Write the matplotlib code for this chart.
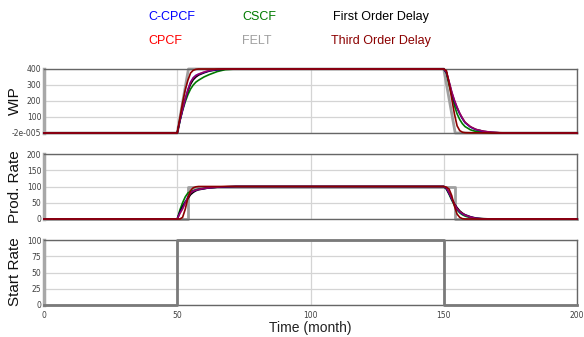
import matplotlib
matplotlib.use("Agg")
import matplotlib.pyplot as plt

# ---------------- data ----------------
time = [0, 50, 51, 52, 53, 54, 55, 56, 57, 58, 60, 62, 65, 68, 72, 80,
        150, 151, 152, 153, 154, 155, 156, 157, 158, 160, 162, 165, 168, 172, 180, 200]

# WIP
wip_c_cpcf = [0, 0, 78, 146, 210, 272, 318, 345, 360, 368, 380, 390, 397, 400, 400, 400,
              400, 380, 320, 255, 203, 160, 122, 92, 65, 38, 22, 10, 4, 0, 0, 0]
wip_cpcf = [0, 0, 80, 148, 212, 270, 316, 344, 359, 368, 381, 391, 398, 400, 400, 400,
            400, 382, 322, 258, 206, 162, 124, 94, 67, 40, 23, 11, 5, 1, 0, 0]
wip_cscf = [0, 0, 75, 140, 195, 240, 275, 300, 318, 330, 350, 365, 384, 396, 400, 400,
            400, 375, 300, 235, 172, 120, 84, 58, 40, 20, 10, 3, 0, 0, 0, 0]
wip_first = [0, 0, 80, 150, 210, 262, 305, 333, 350, 362, 376, 387, 395, 399, 400, 400,
             400, 378, 315, 250, 198, 156, 120, 90, 66, 38, 22, 10, 4, 0, 0, 0]
wip_third = [0, 0, 95, 190, 270, 330, 375, 392, 398, 400, 400, 400, 400, 400, 400, 400,
             400, 390, 310, 215, 120, 45, 15, 5, 2, 1, 1, 1, 0, 0, 0, 0]
felt_wip_time = [0, 50, 54.2, 150, 154.3, 200]
felt_wip = [0, 0, 400, 400, 0, 0]

# Production rate
prod_c_cpcf = [0, 0, 18, 32, 50, 68, 81, 86, 89, 91, 94, 96, 98, 99, 100, 100,
               100, 95, 80, 62, 45, 31, 22, 16, 12, 6, 2, 0, 0, 0, 0, 0]
prod_cpcf = [0, 0, 17, 31, 49, 67, 80, 86, 89, 91, 94, 96, 98, 100, 100, 100,
             100, 96, 81, 63, 46, 32, 23, 17, 12, 6, 2, 0, 0, 0, 0, 0]
prod_cscf = [0, 0, 28, 50, 68, 80, 85, 88, 90, 92, 94, 96, 98, 99, 100, 100,
             100, 92, 76, 58, 42, 28, 19, 13, 9, 4, 1, 0, 0, 0, 0, 0]
prod_first = [0, 0, 22, 39, 53, 63, 75, 82, 87, 90, 93, 96, 98, 99, 100, 100,
              100, 93, 79, 62, 47, 35, 25, 18, 13, 7, 3, 1, 0, 0, 0, 0]
prod_third = [0, 0, 0, 5, 30, 65, 88, 96, 99, 100, 100, 100, 100, 100, 100, 100,
              100, 98, 92, 72, 40, 15, 5, 1, 0, 0, 0, 0, 0, 0, 0, 0]
felt_prod_time = [0, 54.2, 54.2, 154.3, 154.3, 200]
felt_prod = [0, 0, 100, 100, 0, 0]

# Start rate
start_time = [0, 50, 50, 150, 150, 200]
start_rate = [0, 0, 100, 100, 0, 0]

series_names = ["C-CPCF", "CPCF", "CSCF", "FELT", "First Order Delay", "Third Order Delay"]
series_colors = ["#0000ff", "#ff0000", "#007a00", "#a0a0a0", "#000000", "#8b0000"]

wip_ticks = [-2e-5, 100, 200, 300, 400]
wip_labels = ["-2e-005", "100", "200", "300", "400"]
prod_ticks = [0, 50, 100, 150, 200]
start_ticks = [0, 25, 50, 75, 100]
x_ticks = [0, 50, 100, 150, 200]

# ---------------- figure ----------------
W, H = 584, 337
fig = plt.figure(figsize=(W / 100, H / 100), dpi=100)
fig.patch.set_facecolor("white")

def ax_rect(left, top, right, bottom):
    return [left / W, 1 - bottom / H, (right - left) / W, (bottom - top) / H]

ax_wip = fig.add_axes(ax_rect(44, 69, 577, 133))
ax_prod = fig.add_axes(ax_rect(44, 154, 577, 219))
ax_start = fig.add_axes(ax_rect(44, 240, 577, 305))

def style(ax, yticks, ylabels, ylim):
    ax.set_xlim(0, 200)
    ax.set_ylim(*ylim)
    ax.set_yticks(yticks)
    ax.set_yticklabels(ylabels)
    ax.set_xticks(x_ticks)
    ax.grid(True, color="#d4d4d4", lw=0.9, zorder=0)
    ax.set_axisbelow(True)
    for s in ["top", "right", "bottom"]:
        ax.spines[s].set_color("#666666")
        ax.spines[s].set_linewidth(1.0)
    ax.spines["left"].set_color("#a8a8a8")
    ax.spines["left"].set_linewidth(2.5)
    ax.tick_params(axis="both", length=0, labelsize=5.5, labelcolor="#404040", pad=2)

lw = 1.2
kw = dict(clip_on=False)
# WIP
ax_wip.plot(felt_wip_time, felt_wip, color=series_colors[3], lw=2.0, zorder=2, **kw)
ax_wip.plot(time, wip_cscf, color=series_colors[2], lw=lw, zorder=3, **kw)
ax_wip.plot(time, wip_first, color=series_colors[4], lw=lw, zorder=3, **kw)
ax_wip.plot(time, wip_c_cpcf, color=series_colors[0], lw=lw, zorder=4, **kw)
ax_wip.plot(time, wip_cpcf, color=series_colors[1], lw=lw, zorder=4, alpha=0.6, **kw)
ax_wip.plot(time, wip_third, color=series_colors[5], lw=lw, zorder=5, **kw)
style(ax_wip, wip_ticks, wip_labels, (-2e-5, 400))
ax_wip.set_xticklabels([])

# Prod rate
ax_prod.plot(felt_prod_time, felt_prod, color=series_colors[3], lw=2.0, zorder=2, **kw)
ax_prod.plot(time, prod_cscf, color=series_colors[2], lw=lw, zorder=3, **kw)
ax_prod.plot(time, prod_first, color=series_colors[4], lw=lw, zorder=3, **kw)
ax_prod.plot(time, prod_c_cpcf, color=series_colors[0], lw=lw, zorder=4, **kw)
ax_prod.plot(time, prod_cpcf, color=series_colors[1], lw=lw, zorder=4, alpha=0.6, **kw)
ax_prod.plot(time, prod_third, color=series_colors[5], lw=lw, zorder=5, **kw)
style(ax_prod, prod_ticks, [str(v) for v in prod_ticks], (0, 200))
ax_prod.set_xticklabels([])

# Start rate
ax_start.plot(start_time, start_rate, color="#7a7a7a", lw=2.0, zorder=3, **kw)
style(ax_start, start_ticks, [str(v) for v in start_ticks], (0, 100))
ax_start.set_xticklabels([str(v) for v in x_ticks])
ax_start.tick_params(axis="x", pad=4)

# y labels
lab_font = dict(family=["Liberation Sans", "DejaVu Sans"], fontsize=11, color="#111111",
                rotation=90, ha="center", va="center")
fig.text(15 / W, 1 - 101 / H, "WIP", **lab_font)
fig.text(15 / W, 1 - 187 / H, "Prod. Rate", **lab_font)
fig.text(15 / W, 1 - 272 / H, "Start Rate", **lab_font)

fig.text(310 / W, 1 - 328 / H, "Time (month)", family=["Liberation Sans", "DejaVu Sans"],
         fontsize=10, color="#222222", ha="center", va="center")

# legend as coloured text
leg_pos = [(148, 17), (148, 41), (242, 17), (242, 41), (333, 17), (331, 41)]
for i, (x, y) in enumerate(leg_pos):
    fig.text(x / W, 1 - y / H, series_names[i], color=series_colors[i],
             family=["Liberation Sans", "DejaVu Sans"], fontsize=9, ha="left", va="center")

fig.savefig("out.png", dpi=100, facecolor="white")
